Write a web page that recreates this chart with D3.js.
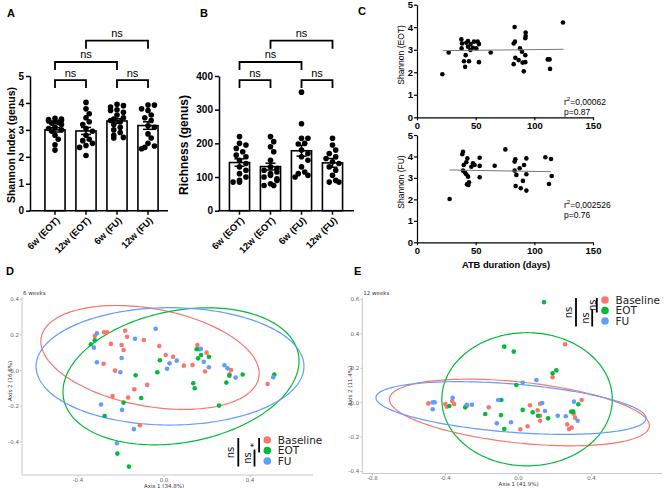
<!DOCTYPE html>
<html><head><meta charset="utf-8">
<script src="https://cdn.jsdelivr.net/npm/d3@7"></script>
<style>body{margin:0;background:#fff}</style>
</head><body>
<svg id="c" width="669" height="488"></svg>
<script>
// ---------------- DATA ----------------
const groups = ["6w (EOT)", "12w (EOT)", "6w (FU)", "12w (FU)"];
const shannonMean = [3.0, 2.96, 3.33, 3.16];
const shannonSem = [0.08, 0.13, 0.09, 0.14];
const shannonPts = [
  [3.43,3.4,3.38,3.35,3.33,3.3,3.28,3.25,3.2,3.1,3.05,3.0,2.95,2.8,2.65,2.45,2.25],
  [4.02,3.78,3.6,3.45,3.3,3.2,3.05,2.95,2.8,2.65,2.6,2.5,2.42,2.35,2.05],
  [3.95,3.9,3.85,3.75,3.72,3.65,3.55,3.45,3.4,3.35,3.3,3.2,3.1,3.0,2.9,2.8,2.72,2.7],
  [3.92,3.92,3.78,3.72,3.55,3.45,3.35,3.15,3.1,2.85,2.7,2.5,2.4,2.35,2.3]
];
const shannonTicks = [0, 1, 2, 3, 4, 5];
const richMean = [143, 131, 178, 142];
const richSem = [11, 10, 16, 13];
const richPts = [
  [220,200,195,185,175,165,160,150,140,130,120,110,100,90,85,85],
  [220,205,190,175,150,130,125,120,115,110,105,100,95,90,80,75,75],
  [352,258,215,215,200,198,180,170,160,150,130,115,110,105,100],
  [215,195,180,170,160,155,145,140,130,120,105,90,85,85]
];
const richTicks = [0, 100, 200, 300, 400];
const compPairs = [[0,1,"ns"],[2,3,"ns"],[0,2,"ns"],[1,3,"ns"]];

const atbTicks = [0, 50, 100, 150];
const cShannonTicks = [0, 1, 2, 3, 4, 5];
const atbEOT = [[21.6,1.91],[27,2.88],[37.8,3.46],[38.4,3.28],[38,3.06],[42,3.31],[41.5,2.76],[40,2.49],[41,2.24],[44.3,2.49],[43.5,3.39],[43.5,3.13],[45.5,2.99],[45.7,3.25],[47.7,3.09],[48.6,3.36],[50.6,3.06],[51.7,3.36],[52.8,3.25],[52.8,2.45],[62.8,2.88],[83.2,4.01],[82.4,3.28],[83.5,3.36],[82.4,2.36],[83.8,2.64],[86.6,2.54],[87.8,3.06],[89.5,2.91],[90,2.43],[91,2.04],[92.3,2.76],[92.3,2.45],[92.6,3.76],[92.6,3.61],[92.3,3.51],[111.4,2.57],[113,2.57],[113.4,2.15],[124.4,4.21]];
const atbFU = [[27.8,2.02],[39.2,4.22],[38.6,4.10],[39.8,3.60],[39.2,3.34],[40.9,3.25],[42,3.73],[42.9,3.91],[42,3.17],[43.5,3.06],[42.6,2.70],[44.3,2.80],[43.8,2.67],[46.3,3.52],[47.7,3.68],[49.1,3.60],[53.4,3.94],[53.4,3.56],[53.4,3.03],[66.2,3.57],[75.3,4.33],[83.8,3.87],[83.2,3.76],[83.2,3.34],[84.7,3.14],[84.1,2.62],[87.5,3.45],[88.4,2.52],[91.2,3.60],[90.3,2.86],[93.2,3.91],[93.2,3.17],[93.2,2.41],[109.4,3.96],[114.2,3.88],[112.5,2.72],[114.8,3.09]];
const fitEOT = [[22,2.96],[125,3.02]];
const fitFU = [[27.8,3.37],[114.2,3.29]];
const statsEOT = ["r²=0,00062", "p=0.87"];
const statsFU = ["r²=0,002526", "p=0.76"];

const legendGroups = ["Baseline", "EOT", "FU"];
const d6Baseline = [[-0.322,0.194],[-0.279,0.215],[-0.264,0.215],[-0.247,0.150],[-0.181,0.224],[-0.172,0.190],[-0.197,0.144],[-0.188,0.116],[-0.281,0.039],[-0.228,0.000],[-0.094,0.172],[-0.138,-0.104],[-0.078,-0.080],[-0.239,-0.142],[-0.167,-0.151],[-0.112,-0.306],[-0.022,0.138],[0.008,0.088],[0.042,0.078],[0.092,0.028],[0.133,0.032],[0.155,0.144],[0.198,0.101],[0.191,-0.005],[0.312,0.004],[0.305,-0.020],[0.482,-0.075]];
const d6EOT = [[-0.340,0.148],[-0.322,0.170],[-0.132,-0.026],[-0.106,-0.153],[-0.188,-0.179],[-0.276,-0.254],[-0.217,-0.465],[-0.163,-0.538],[-0.019,0.058],[-0.031,-0.009],[0.152,0.120],[0.164,0.120],[0.172,0.088],[0.158,0.069],[0.209,0.078],[0.136,-0.071],[0.143,-0.099],[0.290,-0.067],[0.304,-0.028],[0.366,-0.022],[0.513,-0.022],[0.256,-0.196]];
const d6FU = [[-0.312,0.209],[-0.326,0.129],[-0.312,0.047],[-0.197,0.071],[-0.203,-0.009],[-0.135,0.179],[-0.039,0.235],[-0.293,-0.190],[-0.195,-0.220],[-0.140,-0.328],[-0.219,-0.407],[0.026,0.041],[0.014,0.011],[0.059,0.056],[0.171,0.122],[0.185,0.050],[0.209,0.019],[0.281,0.030],[0.296,0.013],[0.333,-0.039],[0.508,-0.037]];
const d6Ellipses = [
  {cx:-0.065, cy:0.074, ux:0.506, uy:-0.112, vx:-0.041, vy:-0.269},
  {cx:0.079, cy:-0.032, ux:0.546, uy:0.125, vx:0.057, vy:-0.363},
  {cx:0.028, cy:0.024, ux:0.623, uy:0, vx:0, vy:-0.329}
];
const d6Sig = ["ns", "ns", "*"];
const d6XTicks = [-0.4, 0.0, 0.4];
const d6YTicks = [-0.4, -0.2, 0.0, 0.2, 0.4];

const e12Baseline = [[-0.494,-0.004],[-0.401,-0.008],[-0.393,-0.023],[-0.363,0.010],[-0.353,-0.008],[-0.281,-0.017],[-0.163,-0.027],[0.255,0.340],[0.187,0.148],[0.063,-0.015],[0.118,-0.006],[0.105,-0.044],[0.118,-0.076],[0.118,-0.105],[0.010,-0.155],[0.050,-0.137],[0.267,-0.126],[0.277,-0.153],[0.291,-0.145],[0.302,-0.064],[0.310,-0.087],[0.346,0.016]];
const e12EOT = [[-0.379,-0.019],[-0.292,-0.027],[-0.078,0.326],[-0.026,0.297],[-0.094,0.016],[-0.182,-0.066],[-0.096,-0.072],[-0.078,-0.153],[-0.012,0.103],[0.023,-0.042],[0.140,0.585],[0.187,0.171],[0.207,0.188],[0.078,-0.056],[0.107,-0.076],[0.162,-0.091],[0.289,-0.052],[0.300,-0.052],[0.328,-0.009]];
const e12FU = [[-0.470,0.002],[-0.459,0.002],[-0.470,-0.038],[-0.361,0.029],[-0.284,-0.012],[-0.255,-0.012],[-0.111,0.016],[-0.119,-0.120],[-0.041,-0.114],[0.023,0.116],[0.098,0.132],[0.130,-0.002],[0.145,-0.048],[0.215,-0.076],[0.259,-0.079],[0.304,0.006],[0.324,-0.105]];
const e12Ellipses = [
  {cx:0.005, cy:-0.057, ux:0.712, uy:-0.081, vx:-0.018, vy:-0.176},
  {cx:0.047, cy:0.020, ux:0.467, uy:0, vx:0, vy:-0.387},
  {cx:-0.041, cy:-0.031, ux:0.740, uy:-0.062, vx:-0.010, vy:-0.140}
];
const e12Sig = ["ns", "ns", "ns"];
const e12XTicks = [-0.8, -0.4, 0.0, 0.4];
const e12YTicks = [-0.4, -0.2, 0.0, 0.2, 0.4, 0.6];

// ---------------- DRAWING ----------------
const svg = d3.select("#c");
svg.append("rect").attr("width", 669).attr("height", 488).attr("fill", "#fff");
const AR = "'Liberation Sans', Arial, sans-serif";
const DV = "'DejaVu Sans', sans-serif";
const colors = ["#F8766D", "#00BA38", "#619CFF"];
const intFmt = d3.format("d");

[["A",7,17],["B",200,17],["C",358,15],["D",6,275],["E",354,275]].forEach(([t,x,y]) =>
  svg.append("text").attr("x",x).attr("y",y).text(t).attr("font-family",AR).attr("font-weight","bold").attr("font-size",11));

function swarm(vals, y, cx, r, maxOff) {
  const placed = [];
  const items = vals.map(v => ({v, py: y(v)})).sort((a,b) => a.py - b.py);
  const offs = [0];
  for (let k = 1; k < 8; k++) offs.push(k * r * 1.15, -k * r * 1.15);
  items.forEach(p => {
    let best = null;
    for (const o of offs) {
      if (Math.abs(o) > maxOff) continue;
      if (placed.every(q => Math.hypot(q.px - (cx + o), q.py - p.py) >= 2 * r * 0.92)) { best = o; break; }
    }
    if (best === null) best = offs[(placed.length % 5)] || 0;
    p.px = cx + best; placed.push(p);
  });
  return placed;
}

function barPanel(o) {
  const g = svg.append("g");
  const x = d3.scaleBand().domain(groups).range(o.band).paddingInner(0.35).paddingOuter(0.175);
  const y = d3.scaleLinear().domain([0, d3.max(o.ticks)]).range([210.7, 76]);
  const ymax = d3.max(o.ticks);
  const ya = g.append("g").attr("transform", `translate(${o.ax},0)`)
    .call(d3.axisLeft(y).tickValues(o.ticks).tickFormat(intFmt).tickSize(4).tickSizeOuter(0).tickPadding(2));
  ya.select(".domain").attr("stroke-width", 1.5);
  ya.selectAll(".tick line").attr("stroke-width", 1.5);
  ya.selectAll("text").attr("font-family", AR).attr("font-weight", "bold").attr("font-size", 10).attr("fill", "#000");
  g.append("line").attr("x1", o.ax - 0.75).attr("x2", o.axEnd).attr("y1", y(0)).attr("y2", y(0)).attr("stroke", "#000").attr("stroke-width", 1.5);
  groups.forEach((gr, i) => {
    const cx = x(gr) + x.bandwidth() / 2;
    g.append("line").attr("x1", cx).attr("x2", cx).attr("y1", y(0)).attr("y2", y(0) + 4).attr("stroke", "#000").attr("stroke-width", 1.5);
    g.append("text").attr("transform", `translate(${cx + 3},${y(0) + 8}) rotate(-45)`)
      .attr("text-anchor", "end").attr("dy", "0.35em").text(gr)
      .attr("font-family", AR).attr("font-weight", "bold").attr("font-size", 9.5);
    g.append("rect").attr("x", x(gr)).attr("width", x.bandwidth()).attr("y", y(o.means[i])).attr("height", y(0) - y(o.means[i]))
      .attr("fill", "#fff").attr("stroke", "#000").attr("stroke-width", 1.6);
    const dots = swarm(o.pts[i], y, cx, 2.8, x.bandwidth() / 2 - 1);
    g.selectAll(null).data(dots).join("circle").attr("cx", d => d.px).attr("cy", d => d.py).attr("r", 2.8).attr("fill", "#000");
    const m = o.means[i], s = o.sems[i];
    g.append("line").attr("x1", cx).attr("x2", cx).attr("y1", y(m - s)).attr("y2", y(m + s)).attr("stroke", "#000").attr("stroke-width", 1.5);
    [m - s, m + s].forEach(v => g.append("line").attr("x1", cx - 5).attr("x2", cx + 5).attr("y1", y(v)).attr("y2", y(v)).attr("stroke", "#000").attr("stroke-width", 1.5));
  });
  const levels = [0.97, 0.97, 1.104, 1.262];
  compPairs.forEach(([a, b, t], k) => {
    const xa = x(groups[a]) + x.bandwidth() / 2, xb = x(groups[b]) + x.bandwidth() / 2;
    const yt = y(levels[k] * ymax);
    g.append("path").attr("d", `M${xa},${yt + 8}V${yt}H${xb}V${yt + 8}`).attr("fill", "none").attr("stroke", "#000").attr("stroke-width", 1.8);
    g.append("text").attr("x", (xa + xb) / 2).attr("y", yt - 3.5).attr("text-anchor", "middle").text(t)
      .attr("font-family", AR).attr("font-size", 11);
  });
  g.append("text").attr("transform", `translate(${o.lx},${o.ly}) rotate(-90)`).attr("text-anchor", "middle").attr("dy", "0.35em")
    .text(o.label).attr("font-family", AR).attr("font-weight", "bold").attr("font-size", o.lsize);
}

barPanel({band: [39.5, 163.5], ax: 30, axEnd: 168, ticks: shannonTicks, means: shannonMean, sems: shannonSem, pts: shannonPts,
  label: "Shannon Index (genus)", lx: 11, ly: 145, lsize: 10.5});
barPanel({band: [224, 348], ax: 219, axEnd: 354, ticks: richTicks, means: richMean, sems: richSem, pts: richPts,
  label: "Richness (genus)", lx: 184, ly: 145, lsize: 12});

function scatterC(o) {
  const g = svg.append("g");
  const x = d3.scaleLinear().domain([0, d3.max(atbTicks)]).range([417, 593]);
  const y = d3.scaleLinear().domain([0, d3.max(cShannonTicks)]).range([o.y0, o.y5]);
  const xa = g.append("g").attr("transform", `translate(0,${y(0)})`).call(d3.axisBottom(x).tickValues(atbTicks).tickFormat(intFmt).tickSize(3).tickSizeOuter(0).tickPadding(1.5));
  const ya = g.append("g").attr("transform", `translate(${x(0)},0)`).call(d3.axisLeft(y).tickValues(cShannonTicks).tickFormat(intFmt).tickSize(3).tickSizeOuter(0).tickPadding(1));
  [xa, ya].forEach(a => {
    a.select(".domain").attr("stroke-width", 1.2);
    a.selectAll(".tick line").attr("stroke-width", 1.2);
    a.selectAll("text").attr("font-family", AR).attr("font-weight", "bold").attr("font-size", 9.5).attr("fill", "#000");
  });
  g.selectAll(null).data(o.pts).join("circle").attr("cx", d => x(d[0])).attr("cy", d => y(d[1])).attr("r", 2.3).attr("fill", "#000");
  g.append("path").attr("d", d3.line().x(d => x(d[0])).y(d => y(d[1]))(o.fit)).attr("stroke", "#777").attr("stroke-width", 1).attr("fill", "none");
  g.append("text").attr("transform", `translate(401,${o.ly}) rotate(-90)`).attr("text-anchor", "middle").attr("dy", "0.35em")
    .text(o.label).attr("font-family", AR).attr("font-size", 8.5);
  o.stats.forEach((t, i) => {
    const tx = g.append("text").attr("x", 564).attr("y", o.sy + i * 10).attr("font-family", AR).attr("font-size", 8.5);
    if (t.startsWith("r²")) {
      tx.append("tspan").text("r");
      tx.append("tspan").text("2").attr("font-size", 6).attr("dy", -3.5);
      tx.append("tspan").text(t.slice(2)).attr("dy", 3.5);
    } else tx.text(t);
  });
}
scatterC({pts: atbEOT, fit: fitEOT, y0: 117.3, y5: 4.7, label: "Shannon (EOT)", ly: 55, stats: statsEOT, sy: 104.5});
scatterC({pts: atbFU, fit: fitFU, y0: 242.3, y5: 135, label: "Shannon (FU)", ly: 182, stats: statsFU, sy: 207.5});
svg.append("text").attr("x", 506).attr("y", 268).attr("text-anchor", "middle").text("ATB duration (days)")
  .attr("font-family", AR).attr("font-weight", "bold").attr("font-size", 9.3);

function pcoa(o) {
  const g = svg.append("g");
  const x = d3.scaleLinear().domain(o.xd).range(o.xr);
  const y = d3.scaleLinear().domain(o.yd).range(o.yr);
  const ax = "#c8c8c8", tc = "#666";
  g.append("line").attr("x1", o.left).attr("x2", o.left).attr("y1", o.top).attr("y2", o.bottom).attr("stroke", ax).attr("stroke-width", 1);
  g.append("line").attr("x1", o.left).attr("x2", o.right).attr("y1", o.bottom).attr("y2", o.bottom).attr("stroke", ax).attr("stroke-width", 1);
  o.xt.forEach(v => {
    g.append("line").attr("x1", x(v)).attr("x2", x(v)).attr("y1", o.bottom).attr("y2", o.bottom + 2).attr("stroke", ax);
    g.append("text").attr("x", x(v)).attr("y", o.bottom + 6.5).attr("text-anchor", "middle").text(v.toFixed(1))
      .attr("font-family", DV).attr("font-size", 5.5).attr("fill", tc);
  });
  o.yt.forEach(v => {
    g.append("line").attr("x1", o.left - 2).attr("x2", o.left).attr("y1", y(v)).attr("y2", y(v)).attr("stroke", ax);
    g.append("text").attr("x", o.left - 3).attr("y", y(v)).attr("dy", "0.35em").attr("text-anchor", "end").text(v.toFixed(1))
      .attr("font-family", DV).attr("font-size", 5.5).attr("fill", tc);
  });
  g.append("text").attr("x", x(0)).attr("y", o.bottom + 12.5).attr("text-anchor", "middle").text(o.xlab)
    .attr("font-family", DV).attr("font-size", 5.5).attr("fill", "#333");
  g.append("text").attr("transform", `translate(${o.ylx},${o.yly}) rotate(-90)`).attr("text-anchor", "middle").attr("dy", "0.35em").text(o.ylab)
    .attr("font-family", DV).attr("font-size", 5.5).attr("fill", "#333");
  g.append("text").attr("x", o.left + 1).attr("y", o.top - 2).text(o.title).attr("font-family", DV).attr("font-size", 5.5).attr("fill", "#333");
  const line = d3.line().x(d => x(d[0])).y(d => y(d[1]));
  o.ells.forEach((e, i) => {
    const pts = d3.range(0, 361, 2).map(deg => { const t = deg * Math.PI / 180;
      return [e.cx + e.ux * Math.cos(t) + e.vx * Math.sin(t), e.cy + e.uy * Math.cos(t) + e.vy * Math.sin(t)]; });
    g.append("path").attr("d", line(pts)).attr("fill", "none").attr("stroke", colors[i]).attr("stroke-width", 1.2);
  });
  o.sets.forEach((s, i) => {
    g.selectAll(null).data(s).join("circle").attr("cx", d => x(d[0])).attr("cy", d => y(d[1])).attr("r", 2.3).attr("fill", colors[i]);
  });
  const cx = o.lx, r0 = o.ly, dy = 10.5;
  legendGroups.forEach((t, i) => {
    g.append("circle").attr("cx", cx).attr("cy", r0 + i * dy).attr("r", 3.8).attr("fill", colors[i]);
    g.append("text").attr("x", cx + 10.5).attr("y", r0 + i * dy).attr("dy", "0.36em").text(t).attr("font-family", DV).attr("font-size", 10.5).attr("fill", "#222");
  });
  const r1 = r0 + dy, r2 = r0 + 2 * dy;
  const bars = [[cx - 29, r0 - 2, r2 + 5.5, cx - 36.5, (r0 + r2) / 2 + 2], [cx - 12.8, r1 - 1, r2 + 5.5, cx - 19.5, (r1 + r2) / 2 + 2.2], [cx - 8.2, r0 - 2, r1 + 2, cx - 13, (r0 + r1) / 2]];
  bars.forEach(([lx, y1, y2, tx, ty], i) => {
    g.append("line").attr("x1", lx).attr("x2", lx).attr("y1", y1).attr("y2", y2).attr("stroke", "#000").attr("stroke-width", 1.8);
    const t = o.sig[i];
    g.append("text").attr("transform", `translate(${tx},${ty}) rotate(-90)`).attr("text-anchor", "middle").attr("dy", "0.35em").text(t)
      .attr("font-family", DV).attr("font-size", t === "*" ? 9 : 10).attr("fill", "#111");
  });
}
pcoa({xd: [-0.4, 0.4], xr: [78, 250], yd: [-0.4, 0.4], yr: [442, 299.3], left: 22, right: 313, top: 297, bottom: 475,
  xt: d6XTicks, yt: d6YTicks, xlab: "Axis 1 (34.8%)", ylab: "Axis 2 (16.6%)", ylx: 10, yly: 381, title: "6 weeks",
  ells: d6Ellipses, sets: [d6Baseline, d6EOT, d6FU], lx: 267.3, ly: 440, sig: d6Sig});
pcoa({xd: [-0.8, 0.4], xr: [372.5, 591.5], yd: [-0.4, 0.6], yr: [471.5, 299.5], left: 362.3, right: 662, top: 297, bottom: 473.5,
  xt: e12XTicks, yt: e12YTicks, xlab: "Axis 1 (41.9%)", ylab: "Axis 2 (11.4%)", ylx: 350, yly: 386, title: "12 weeks",
  ells: e12Ellipses, sets: [e12Baseline, e12EOT, e12FU], lx: 605, ly: 300, sig: e12Sig});
</script>
</body></html>
